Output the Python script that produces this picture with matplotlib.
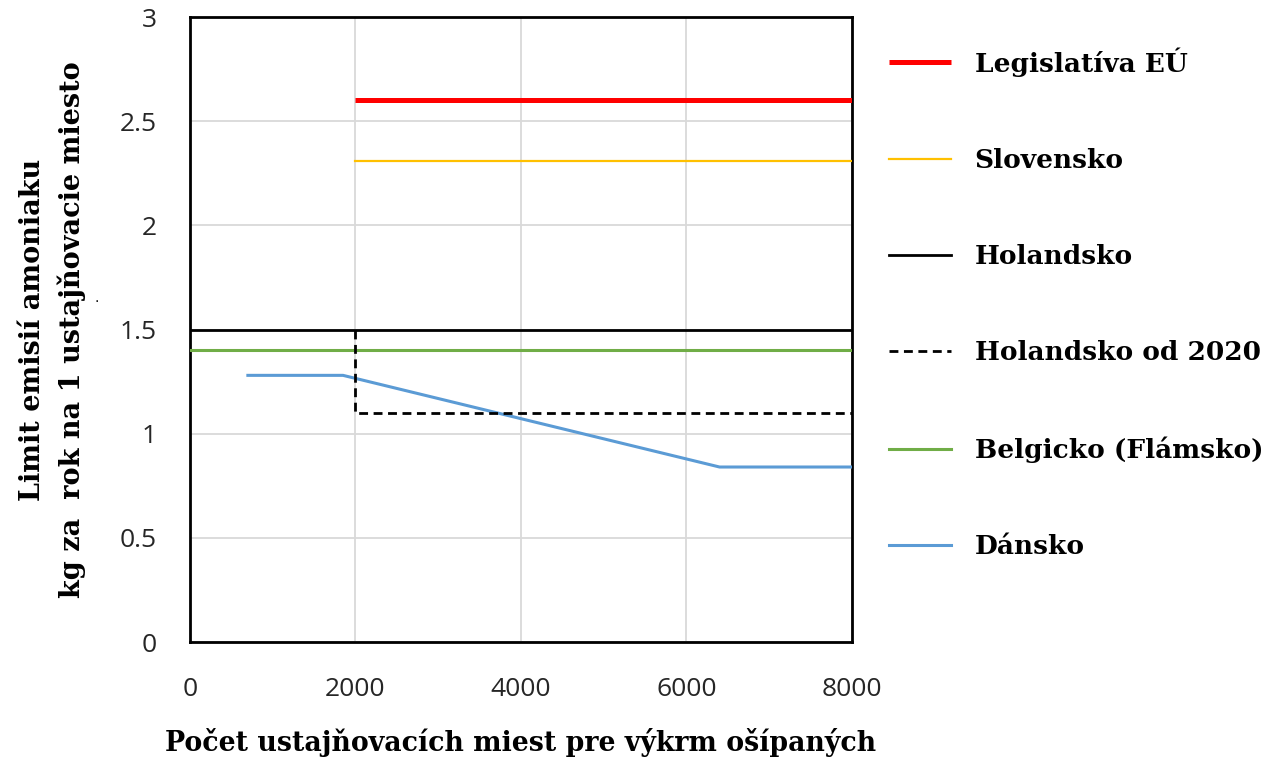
import matplotlib.pyplot as plt
from matplotlib.ticker import StrMethodFormatter

# data
x_ticks = [0, 2000, 4000, 6000, 8000]
y_ticks = [0, 0.5, 1, 1.5, 2, 2.5, 3]

eu_x = [2000, 8000]
eu_y = [2.6, 2.6]
sk_x = [2000, 8000]
sk_y = [2.31, 2.31]
nl_x = [0, 8000]
nl_y = [1.5, 1.5]
nl2020_x = [2000, 2000, 8000]
nl2020_y = [1.5, 1.1, 1.1]
be_x = [0, 8000]
be_y = [1.4, 1.4]
dk_x = [700, 1850, 6400, 8000]
dk_y = [1.28, 1.28, 0.84, 0.84]

labels = ['Legislatíva EÚ', 'Slovensko', 'Holandsko', 'Holandsko od 2020',
          'Belgicko (Flámsko)', 'Dánsko']

serif = 'DejaVu Serif'
sans = 'Open Sans'

fig = plt.figure(figsize=(12.68, 7.57), dpi=100)
ax = fig.add_axes([0.1498, 0.1519, 0.5221, 0.8256])

ax.plot(eu_x, eu_y, color='#FF0000', lw=3.6, solid_capstyle='butt', label=labels[0], zorder=5)
ax.plot(sk_x, sk_y, color='#FFC000', lw=1.6, label=labels[1], zorder=4)
ax.plot(nl_x, nl_y, color='black', lw=2.0, label=labels[2], zorder=4)
ax.plot(nl2020_x, nl2020_y, color='black', lw=2.0, linestyle=(0, (3.2, 2.0)), label=labels[3], zorder=4)
ax.plot(be_x, be_y, color='#70AD47', lw=2.2, label=labels[4], zorder=3)
ax.plot(dk_x, dk_y, color='#5B9BD5', lw=2.2, label=labels[5], zorder=3)

ax.set_xlim(0, 8000)
ax.set_ylim(0, 3)
ax.set_xticks(x_ticks)
ax.set_yticks(y_ticks)
ax.yaxis.set_major_formatter(StrMethodFormatter('{x:g}'))
ax.grid(True, color='#D9D9D9', lw=1.3, zorder=0)
ax.set_axisbelow(True)
ax.tick_params(length=0, labelsize=19, labelcolor='#262626')
ax.tick_params(axis='x', pad=25)
ax.tick_params(axis='y', pad=24)
for lbl in ax.get_xticklabels() + ax.get_yticklabels():
    lbl.set_fontfamily(sans)
for sp in ax.spines.values():
    sp.set_color('black')
    sp.set_linewidth(2.0)

ax.set_xlabel('Počet ustajňovacích miest pre výkrm ošípaných', fontsize=19.3,
              fontweight='bold', family=serif, labelpad=19)
ax.set_ylabel('Limit emisií amoniaku\nkg za  rok na 1 ustajňovacie miesto', fontsize=19.5,
              fontweight='bold', family=serif, labelpad=24, linespacing=1.5)
fig.text(97 / 1268, 1 - 298 / 757, '.', fontsize=10, ha='center', va='center')

leg = ax.legend(loc='upper left', bbox_to_anchor=(1.02, 0.99), frameon=False,
                prop={'family': serif, 'weight': 'bold', 'size': 19},
                labelspacing=2.7, handlelength=2.35, handletextpad=0.9)

fig.savefig('out.png', dpi=100)
